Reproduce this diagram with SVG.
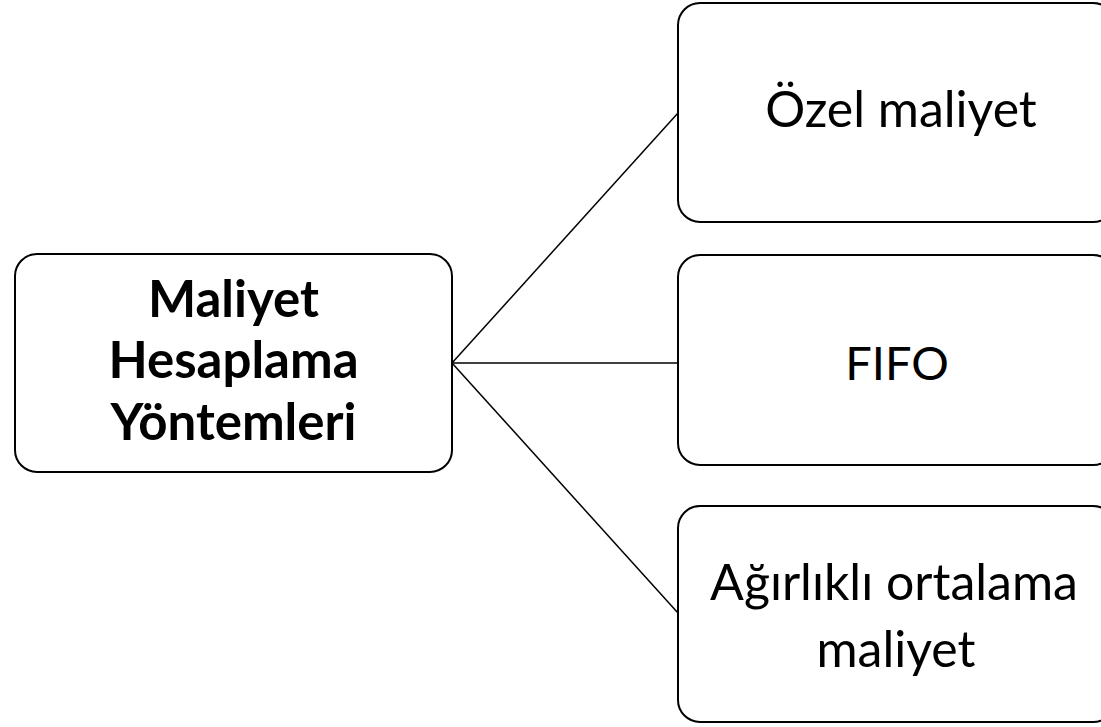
<svg xmlns="http://www.w3.org/2000/svg" width="1101" height="727" viewBox="0 0 1101 727">
<style>
.box{fill:#fff;stroke:#000;stroke-width:2}
.lbl{font-family:Lato,"Liberation Sans",sans-serif;fill:#000;text-anchor:middle;font-size:50px}
.bold{font-weight:bold;font-size:51px}
.conn{stroke:#000;stroke-width:1.5;fill:none}
</style>
<rect width="1101" height="727" fill="#fff"/>
<g id="connectors">
<line class="conn" x1="452" y1="363" x2="678" y2="113"/>
<line class="conn" x1="452" y1="363" x2="678" y2="363"/>
<line class="conn" x1="452" y1="363" x2="678" y2="613"/>
</g>
<g id="root">
<rect class="box" x="15" y="254" width="437" height="218" rx="22"/>
<text class="lbl bold" x="233.5" y="317">Maliyet</text>
<text class="lbl bold" x="233.5" y="378">Hesaplama</text>
<text class="lbl bold" x="233.5" y="440">Yöntemleri</text>
</g>
<g id="ozel">
<rect class="box" x="678" y="3" width="437" height="219" rx="22"/>
<text class="lbl" x="901" y="127">Özel maliyet</text>
</g>
<g id="fifo">
<rect class="box" x="678" y="255" width="437" height="210" rx="22"/>
<text class="lbl" x="897" y="380" style="font-size:47px">FIFO</text>
</g>
<g id="agirlikli">
<rect class="box" x="678" y="506" width="437" height="216" rx="22"/>
<text class="lbl" x="894" y="600">Ağırlıklı ortalama</text>
<text class="lbl" x="896" y="667">maliyet</text>
</g>
</svg>
